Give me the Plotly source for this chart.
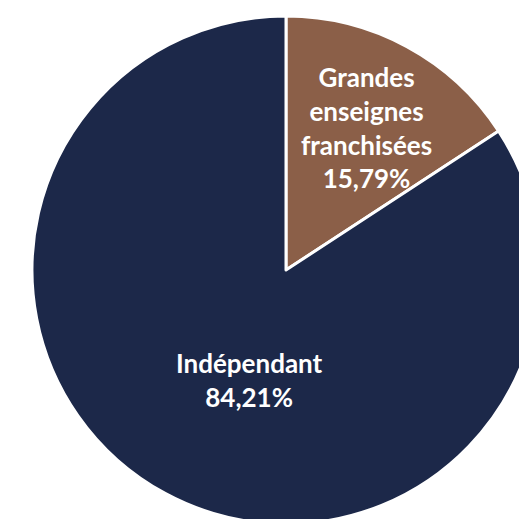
import math
import plotly.graph_objects as go

labels = ["Grandes<br>enseignes<br>franchisées", "Indépendant"]
values = [15.79, 84.21]
colors = ["#8b5f48", "#1c2849"]

W, H = 560, 560
cx, cy, r = 286, 270, 254

fig = go.Figure(go.Pie(
    labels=labels,
    values=values,
    sort=False,
    direction="clockwise",
    rotation=0,
    marker=dict(colors=colors, line=dict(color="white", width=3)),
    textinfo="none",
    hoverinfo="label+percent",
    showlegend=False,
    domain=dict(x=[(cx - r) / W, (cx + r) / W], y=[(H - cy - r) / H, (H - cy + r) / H]),
))

# label placement (style): radial fraction and angular nudge per slice, like Excel "best fit"
rad_frac = [0.645, 0.455]
ang_nudge = [1.0, -10.0]

total = sum(values)
start = 0.0
for lab, v, rf, dn in zip(labels, values, rad_frac, ang_nudge):
    span = 360.0 * v / total
    mid = math.radians(start + span / 2 + dn)
    start += span
    px = cx + rf * r * math.sin(mid)
    py = cy - rf * r * math.cos(mid)
    pct = f"{100 * v / total:.2f}".replace(".", ",") + "%"
    fig.add_annotation(
        x=px / W, y=(H - py) / H, xref="paper", yref="paper",
        text=f"{lab}<br>{pct}", showarrow=False,
        xanchor="center", yanchor="middle", align="center",
        font=dict(family="Lato", size=26, color="white", weight="bold"),
    )

fig.update_layout(
    width=W, height=H, autosize=False,
    margin=dict(l=0, r=0, t=0, b=0),
    paper_bgcolor="white",
)

fig.write_html("out.html", post_script="document.body.style.overflow='hidden';document.documentElement.style.overflow='hidden';document.body.style.margin='0';")
